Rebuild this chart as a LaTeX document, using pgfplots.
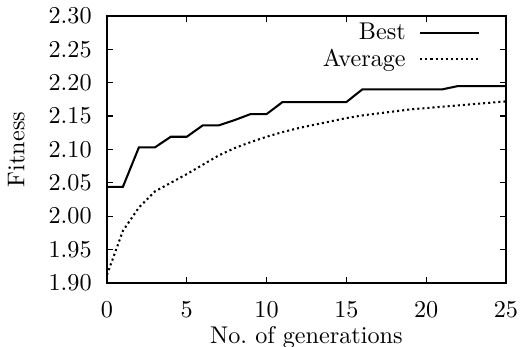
\documentclass[border=0pt]{standalone}
\usepackage{pgfplots}
\pgfplotsset{compat=1.18}
\begin{document}
\begin{tikzpicture}
\path[use as bounding box] (-44.2pt,-26.3pt) rectangle (171.1pt,116.9pt);
\begin{axis}[
  at={(0,0)}, anchor=south west,
  scale only axis, width=164.9pt, height=110.3pt,
  xmin=0, xmax=25, ymin=1.90, ymax=2.30,
  xtick={0,5,10,15,20,25},
  ytick={1.90,1.95,2.00,2.05,2.10,2.15,2.20,2.25,2.30},
  yticklabel style={xshift=-2.8pt, /pgf/number format/.cd, fixed, fixed zerofill, precision=2},
  xticklabel style={yshift=-4.3pt},
  tick align=inside, major tick length=2.5pt,
  axis line style={line width=0.7pt},
  tick style={line width=0.5pt, black},
  xlabel={No.\ of generations},
  xlabel style={yshift=3.0pt},
  ylabel={Fitness},
  ylabel style={yshift=3pt},
  legend style={at={(0.937,0.995)}, anchor=north east, draw=none, fill=none,
    inner sep=0pt, cells={anchor=east}, row sep=-1.5pt},
  legend plot pos=right,
  legend image code/.code={\path (0pt,0pt); \draw[#1] (3.6pt,0pt) -- (28pt,0pt);},
]
\addplot[black, line width=0.85pt] coordinates {
(0,2.044) (1,2.044) (2,2.103) (3,2.103) (4,2.119) (5,2.119) (6,2.136) (7,2.136)
(8,2.144) (9,2.153) (10,2.153) (11,2.171) (12,2.171) (13,2.171) (14,2.171) (15,2.171)
(16,2.190) (17,2.190) (18,2.190) (19,2.190) (20,2.190) (21,2.190) (22,2.195)
(23,2.195) (24,2.195) (25,2.195)
};
\addlegendentry{Best}
\addplot[black, line width=0.85pt, dash pattern=on 0.85pt off 1.25pt] coordinates {
(0,1.912) (1,1.978) (2,2.013) (3,2.037) (4,2.050) (5,2.063) (6,2.077) (7,2.091)
(8,2.102) (9,2.111) (10,2.119) (11,2.126) (12,2.132) (13,2.137) (14,2.142) (15,2.147)
(16,2.151) (17,2.154) (18,2.157) (19,2.160) (20,2.162) (21,2.164) (22,2.166)
(23,2.168) (24,2.170) (25,2.172)
};
\addlegendentry{Average}
\end{axis}
\end{tikzpicture}
\end{document}
